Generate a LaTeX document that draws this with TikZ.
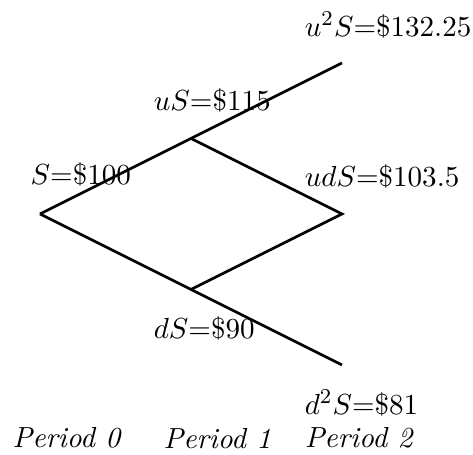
\documentclass[tikz,border=0pt]{standalone}
\usepackage{amsmath, amssymb}
\usepackage{tikz}
\usetikzlibrary{positioning}

\begin{document}
\begin{tikzpicture}[branch/.style={line width=1pt},lbl/.style={anchor=west,inner sep=0pt,font=\fontsize{10.95}{13.6}\selectfont}]
\useasboundingbox (-0.53,-3.19) rectangle (5.735,2.834);
% Tree points
\coordinate (root) at (0,0);
\coordinate (up) at (2,1);
\coordinate (down) at (2,-1);
\coordinate (upup) at (4,2);
\coordinate (updown) at (4,0);
\coordinate (downdown) at (4,-2);

% Branches
\draw[branch] (root) -- (up) -- (upup);
\draw[branch] (root) -- (down) -- (downdown);
\draw[branch] (up) -- (updown) -- (down);

% Prices
\node[lbl] (p0) at (-0.13,0.52) {$S$=\$100};
\node[lbl] (pu) at (1.5,1.51) {$uS$=\$115};
\node[lbl] (pd) at (1.5,-1.51) {$dS$=\$90};
\node[lbl] (puu) at (3.5,2.5) {$u^2S$=\$132.25};
\node[lbl] (pud) at (3.5,0.5) {$udS$=\$103.5};
\node[lbl] (pdd) at (3.5,-2.5) {$d^2S$=\$81};

% Periods
\node[lbl] (t0) at (-0.37,-2.97) {\textit{Period 0}};
\node[lbl] (t1) at (1.63,-2.97) {\textit{Period 1}};
\node[lbl] (t2) at (3.5,-2.97) {\textit{Period 2}};
\end{tikzpicture}
\end{document}
